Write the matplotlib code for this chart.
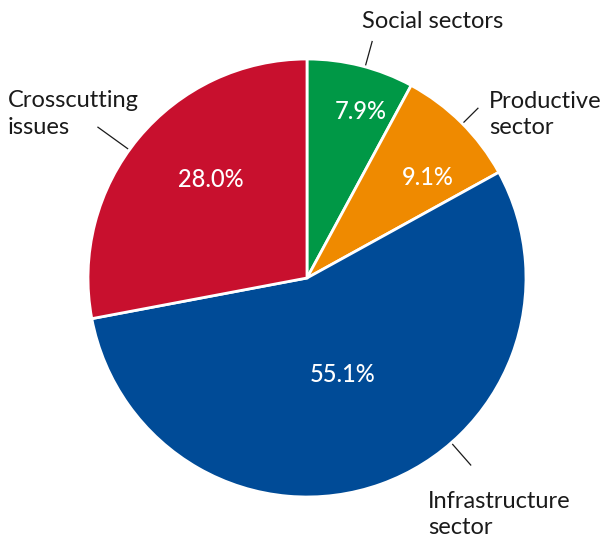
import numpy as np
import matplotlib
matplotlib.use("Agg")
import matplotlib.pyplot as plt

# Share of funding by sector (percent)
sectors = ["Social sectors", "Productive\nsector", "Infrastructure\nsector", "Crosscutting\nissues"]
shares = [7.9, 9.1, 55.1, 28.0]
colors = ["#009846", "#EF8A00", "#004B97", "#C8102E"]

# Label placement (polar: radius, angle in degrees) and leader lines
pct_pos = [(0.80, 72.3), (0.72, 39.8), (0.47, -69.5), (0.63, 134.4)]
leader = [(74.6, 1.01, 1.12), (44.8, 1.01, 1.10), (-48.8, 1.01, 1.135), (144.2, 1.01, 1.177)]
name_pos = [(0.251, 1.169), (0.831, 0.747), (0.553, -1.080), (-1.365, 0.749)]

plt.rcParams["font.family"] = ["Lato", "DejaVu Sans"]

fig = plt.figure(figsize=(6.06, 5.34), dpi=100)
ax = fig.add_axes([0.1452, 0.0693, 0.7228, 0.8202])

ax.pie(shares, colors=colors, startangle=90, counterclock=False, radius=1.0,
       wedgeprops=dict(edgecolor="white", linewidth=2.0))

for v, (r, a) in zip(shares, pct_pos):
    t = np.deg2rad(a)
    ax.text(r * np.cos(t), r * np.sin(t), f"{v:.1f}%", color="white",
            fontsize=17, fontweight="medium", ha="center", va="center")

for (a, r0, r1) in leader:
    t = np.deg2rad(a)
    ax.plot([r0 * np.cos(t), r1 * np.cos(t)], [r0 * np.sin(t), r1 * np.sin(t)],
            color="#1a1a1a", lw=0.9, clip_on=False)

for name, (x, y) in zip(sectors, name_pos):
    ax.text(x, y, name, color="#1a1a1a", fontsize=17, ha="left", va="center",
            linespacing=1.32, clip_on=False)

ax.set_xlim(-1, 1)
ax.set_ylim(-1, 1)
ax.set_aspect("equal")
ax.axis("off")

fig.savefig("out.png", dpi=100, facecolor="white")
